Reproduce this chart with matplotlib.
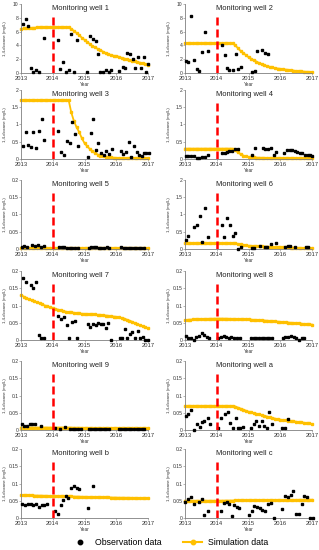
import numpy as np
import matplotlib
matplotlib.use("Agg")
import matplotlib.pyplot as plt
from matplotlib.lines import Line2D

plt.rcParams['font.family'] = ['Liberation Sans', 'DejaVu Sans']

ORANGE = '#FFC000'

# ---------------- data ----------------
well_names = ['1', '2', '3', '4', '5', '6', '7', '8', '9', 'a', 'b', 'c']
action_year = 2014

# simulation (monthly, 2013.0 - 2017.0)
sim_1 = [6.4, 6.45, 6.5, 6.5, 6.55, 6.55, 6.6, 6.6, 6.6, 6.6, 6.6, 6.6, 6.6,
         6.65, 6.65, 6.65, 6.65, 6.65, 6.6, 6.4, 6.1, 5.8, 5.5, 5.1, 4.8,
         4.5, 4.2, 3.9, 3.7, 3.5, 3.3, 3.1, 2.9, 2.75, 2.6, 2.5, 2.45,
         2.35, 2.2, 2.1, 2.0, 1.9, 1.8, 1.7, 1.6, 1.5, 1.4, 1.3, 1.2]
sim_2 = [4.3, 4.3, 4.3, 4.3, 4.3, 4.3, 4.3, 4.3, 4.3, 4.3, 4.3, 4.3, 4.3,
         4.3, 4.3, 4.3, 4.3, 4.3, 4.3, 4.0, 3.6, 3.2, 2.9, 2.6, 2.3,
         2.05, 1.85, 1.65, 1.45, 1.3, 1.15, 1.0, 0.9, 0.8, 0.7, 0.65, 0.6,
         0.55, 0.5, 0.45, 0.4, 0.35, 0.3, 0.27, 0.24, 0.2, 0.18, 0.15, 0.12]
sim_3 = [1.71, 1.71, 1.71, 1.71, 1.71, 1.71, 1.71, 1.71, 1.71, 1.71, 1.71, 1.71, 1.71,
         1.71, 1.71, 1.71, 1.71, 1.71, 1.71, 1.35, 1.1, 0.92, 0.78, 0.6, 0.46,
         0.37, 0.29, 0.22, 0.17, 0.13, 0.1, 0.085, 0.07, 0.055, 0.045, 0.037, 0.03,
         0.028, 0.026, 0.025, 0.024, 0.023, 0.022, 0.021, 0.02, 0.02, 0.02, 0.02, 0.02]
sim_4 = [0.3, 0.3, 0.3, 0.3, 0.3, 0.3, 0.3, 0.3, 0.3, 0.3, 0.3, 0.3, 0.3,
         0.3, 0.3, 0.3, 0.3, 0.3, 0.3, 0.25, 0.19, 0.14, 0.1, 0.075, 0.06,
         0.05, 0.045, 0.04, 0.037, 0.035, 0.033, 0.031, 0.029, 0.027, 0.025, 0.023, 0.022,
         0.021, 0.02, 0.02, 0.02, 0.02, 0.02, 0.02, 0.02, 0.02, 0.02, 0.02, 0.02]
sim_5 = [0.003, 0.003, 0.003, 0.003, 0.003, 0.003, 0.003, 0.003, 0.003, 0.003, 0.003, 0.003, 0.003,
         0.003, 0.003, 0.003, 0.003, 0.003, 0.003, 0.0029, 0.0028, 0.0027, 0.0026, 0.0025, 0.0024,
         0.0024, 0.0023, 0.0023, 0.0022, 0.0022, 0.0021, 0.0021, 0.002, 0.002, 0.002, 0.002, 0.002,
         0.0019, 0.0019, 0.0018, 0.0018, 0.0017, 0.0017, 0.0016, 0.0016, 0.0015, 0.0015, 0.0015, 0.0015]
sim_6 = [0.17, 0.17, 0.17, 0.17, 0.17, 0.17, 0.17, 0.17, 0.17, 0.17, 0.17, 0.17, 0.17,
         0.17, 0.17, 0.17, 0.17, 0.17, 0.17, 0.16, 0.15, 0.135, 0.12, 0.105, 0.095,
         0.09, 0.085, 0.08, 0.077, 0.074, 0.07, 0.067, 0.064, 0.06, 0.057, 0.054, 0.052,
         0.05, 0.047, 0.044, 0.042, 0.04, 0.037, 0.034, 0.031, 0.028, 0.025, 0.022, 0.02]
sim_7 = [0.13, 0.126, 0.122, 0.118, 0.115, 0.112, 0.109, 0.106, 0.103, 0.1, 0.098, 0.095, 0.093,
         0.09, 0.088, 0.086, 0.084, 0.082, 0.081, 0.08, 0.079, 0.078, 0.077, 0.076, 0.076,
         0.075, 0.075, 0.074, 0.074, 0.073, 0.073, 0.072, 0.071, 0.07, 0.069, 0.068, 0.067,
         0.066, 0.064, 0.062, 0.059, 0.056, 0.053, 0.049, 0.046, 0.043, 0.04, 0.037, 0.034]
sim_8 = [0.058, 0.0585, 0.059, 0.0595, 0.06, 0.0603, 0.0606, 0.061, 0.0612, 0.0614, 0.0616, 0.0618, 0.062,
         0.062, 0.062, 0.0618, 0.0616, 0.0614, 0.0612, 0.061, 0.0607, 0.0604, 0.0601, 0.0598, 0.0595,
         0.059, 0.0585, 0.058, 0.0575, 0.057, 0.0565, 0.056, 0.0553, 0.0546, 0.054, 0.0533, 0.0525,
         0.052, 0.0513, 0.0506, 0.05, 0.0493, 0.0486, 0.048, 0.0473, 0.0466, 0.046, 0.0453, 0.0445]
sim_9 = [0.007, 0.007, 0.007, 0.007, 0.007, 0.007, 0.007, 0.007, 0.007, 0.007, 0.007, 0.007, 0.007,
         0.007, 0.007, 0.007, 0.007, 0.007, 0.007, 0.0068, 0.0066, 0.0065, 0.0064, 0.0063, 0.0062,
         0.0062, 0.0061, 0.0061, 0.006, 0.006, 0.006, 0.006, 0.006, 0.006, 0.006, 0.006, 0.006,
         0.0059, 0.0059, 0.0058, 0.0058, 0.0058, 0.0057, 0.0057, 0.0057, 0.0056, 0.0056, 0.0056, 0.0055]
sim_a = [0.07, 0.07, 0.07, 0.07, 0.07, 0.07, 0.07, 0.07, 0.07, 0.07, 0.07, 0.07, 0.07,
         0.07, 0.07, 0.07, 0.07, 0.07, 0.07, 0.068, 0.065, 0.062, 0.059, 0.056, 0.053,
         0.051, 0.049, 0.047, 0.045, 0.043, 0.041, 0.039, 0.037, 0.035, 0.033, 0.031, 0.03,
         0.029, 0.028, 0.027, 0.026, 0.025, 0.024, 0.023, 0.022, 0.021, 0.02, 0.019, 0.017]
sim_b = [0.066, 0.066, 0.0658, 0.0656, 0.0654, 0.0652, 0.065, 0.0648, 0.0646, 0.0644, 0.0642, 0.064, 0.0638,
         0.0636, 0.0634, 0.0632, 0.063, 0.0628, 0.0626, 0.0624, 0.0622, 0.062, 0.0618, 0.0616, 0.0614,
         0.0612, 0.061, 0.0608, 0.0606, 0.0604, 0.0602, 0.06, 0.0598, 0.0596, 0.0594, 0.0592, 0.059,
         0.0589, 0.0588, 0.0587, 0.0586, 0.0585, 0.0584, 0.0583, 0.0582, 0.0581, 0.058, 0.058, 0.058]
sim_c = [0.05, 0.05, 0.05, 0.05, 0.05, 0.05, 0.05, 0.05, 0.05, 0.05, 0.05, 0.05, 0.05,
         0.0502, 0.0503, 0.0504, 0.0505, 0.0506, 0.0507, 0.0508, 0.0509, 0.051, 0.051, 0.051, 0.051,
         0.0511, 0.0512, 0.0513, 0.0514, 0.0515, 0.0516, 0.0517, 0.0518, 0.0519, 0.052, 0.052, 0.052,
         0.0521, 0.0522, 0.0523, 0.0524, 0.0525, 0.0526, 0.0527, 0.0528, 0.0529, 0.053, 0.053, 0.053]

# observations
obs_year_1 = [2013.05, 2013.16, 2013.23, 2013.32, 2013.39, 2013.48, 2013.58, 2013.74, 2014.17, 2014.24,
              2014.33, 2014.42, 2014.5, 2014.59, 2014.67, 2014.75, 2015.09, 2015.16, 2015.27, 2015.36,
              2015.41, 2015.49, 2015.57, 2015.67, 2015.76, 2015.85, 2016.1, 2016.2, 2016.28, 2016.34,
              2016.44, 2016.52, 2016.6, 2016.68, 2016.77, 2016.87, 2016.93, 2017.0]
obs_val_1 = [7.1, 7.8, 6.8, 0.75, 0.15, 0.4, 0.15, 5.1, 4.8, 0.65,
             1.6, 0.1, 0.5, 5.6, 0.15, 4.8, 0.1, 5.4, 4.9, 4.6,
             2.7, 0.15, 0.15, 0.5, 0.15, 0.45, 0.35, 0.85, 0.75, 2.85,
             2.8, 2.1, 0.75, 2.35, 0.75, 2.3, 0.1, 1.35]
obs_year_2 = [2013.02, 2013.11, 2013.2, 2013.28, 2013.38, 2013.45, 2013.54, 2013.63, 2013.72, 2014.16,
              2014.25, 2014.33, 2014.4, 2014.51, 2014.6, 2014.67, 2014.76, 2015.12, 2015.19, 2015.26,
              2015.42, 2015.51, 2015.6]
obs_val_2 = [1.8, 1.6, 8.2, 1.9, 0.6, 0.35, 3.0, 6.0, 3.15, 4.0,
             2.55, 0.75, 0.45, 0.5, 2.8, 0.6, 0.9, 0.15, 0.35, 3.25,
             3.4, 2.85, 2.8]
obs_year_3 = [2013.05, 2013.15, 2013.23, 2013.31, 2013.39, 2013.48, 2013.57, 2013.65, 2013.73, 2014.18,
              2014.27, 2014.35, 2014.44, 2014.53, 2014.62, 2014.69, 2014.78, 2015.11, 2015.19, 2015.28,
              2015.36, 2015.43, 2015.51, 2015.61, 2015.69, 2015.77, 2015.86, 2016.14, 2016.22, 2016.3,
              2016.39, 2016.47, 2016.55, 2016.64, 2016.71, 2016.8, 2016.88, 2016.95, 2017.03]
obs_val_3 = [0.38, 0.79, 0.4, 0.35, 0.78, 0.33, 0.81, 1.17, 0.56, 0.81,
             0.21, 0.12, 0.52, 0.45, 1.07, 0.73, 0.38, 0.05, 0.76, 1.17,
             0.26, 0.46, 0.16, 0.12, 0.24, 0.14, 0.3, 0.22, 0.14, 0.21,
             0.5, 0.07, 0.37, 0.21, 0.12, 0.1, 0.16, 0.16, 0.16]
obs_year_4 = [2013.02, 2013.11, 2013.2, 2013.29, 2013.38, 2013.44, 2013.53, 2013.62, 2013.73, 2014.16,
              2014.25, 2014.32, 2014.4, 2014.48, 2014.59, 2014.67, 2015.11, 2015.2, 2015.45, 2015.53,
              2015.61, 2015.7, 2015.8, 2015.88, 2016.12, 2016.22, 2016.3, 2016.37, 2016.46, 2016.54,
              2016.61, 2016.7, 2016.77, 2016.86, 2016.93, 2017.0]
obs_val_4 = [0.08, 0.1, 0.1, 0.08, 0.03, 0.02, 0.05, 0.06, 0.13, 0.16,
             0.18, 0.2, 0.22, 0.24, 0.28, 0.29, 0.12, 0.32, 0.32, 0.29,
             0.3, 0.32, 0.12, 0.21, 0.17, 0.26, 0.26, 0.26, 0.24, 0.19,
             0.17, 0.18, 0.12, 0.12, 0.12, 0.1]
obs_year_5 = [2013.04, 2013.11, 2013.19, 2013.36, 2013.44, 2013.52, 2013.63, 2013.72, 2014.21, 2014.29,
              2014.37, 2014.46, 2014.53, 2014.62, 2014.69, 2014.78, 2015.13, 2015.21, 2015.29, 2015.36,
              2015.45, 2015.53, 2015.62, 2015.7, 2015.77, 2016.15, 2016.23, 2016.3, 2016.39, 2016.47,
              2016.55, 2016.63, 2016.71, 2016.78, 2016.86]
obs_val_5 = [0.007, 0.008, 0.005, 0.013, 0.01, 0.013, 0.005, 0.01, 0.007, 0.006,
             0.005, 0.004, 0.004, 0.004, 0.004, 0.004, 0.004, 0.005, 0.005, 0.005,
             0.004, 0.004, 0.004, 0.005, 0.004, 0.005, 0.004, 0.004, 0.004, 0.004,
             0.004, 0.004, 0.004, 0.003, 0.003]
obs_year_6 = [2013.02, 2013.11, 2013.28, 2013.37, 2013.46, 2013.53, 2013.62, 2013.73, 2014.15, 2014.24,
              2014.33, 2014.41, 2014.5, 2014.59, 2014.66, 2014.75, 2015.11, 2015.18, 2015.36, 2015.52,
              2015.59, 2015.7, 2015.87, 2016.15, 2016.23, 2016.3, 2016.48, 2016.81, 2016.88]
obs_val_6 = [0.27, 0.39, 0.63, 0.69, 0.96, 0.21, 1.2, 0.34, 0.71, 0.34,
             0.9, 0.7, 0.37, 0.46, 0.0, 0.05, 0.03, 0.04, 0.08, 0.06,
             0.05, 0.15, 0.17, 0.06, 0.08, 0.08, 0.07, 0.06, 0.07]
obs_year_7 = [2013.05, 2013.15, 2013.32, 2013.39, 2013.48, 2013.56, 2013.64, 2013.72, 2014.18, 2014.27,
              2014.35, 2014.44, 2014.52, 2014.6, 2014.69, 2014.77, 2015.1, 2015.18, 2015.26, 2015.35,
              2015.43, 2015.51, 2015.59, 2015.67, 2015.75, 2015.84, 2016.11, 2016.18, 2016.26, 2016.35,
              2016.43, 2016.51, 2016.59, 2016.67, 2016.75, 2016.83, 2016.92, 2017.0]
obs_val_7 = [0.179, 0.169, 0.16, 0.15, 0.169, 0.014, 0.005, 0.005, 0.07, 0.061,
             0.066, 0.043, 0.005, 0.053, 0.055, 0.005, 0.045, 0.037, 0.047, 0.043,
             0.049, 0.047, 0.045, 0.035, 0.05, 0.0, 0.005, 0.005, 0.031, 0.005,
             0.018, 0.024, 0.005, 0.026, 0.005, 0.01, 0.0, 0.0]
obs_year_8 = [2013.02, 2013.11, 2013.18, 2013.27, 2013.35, 2013.43, 2013.52, 2013.6, 2013.68, 2013.77,
              2014.05, 2014.14, 2014.22, 2014.3, 2014.38, 2014.46, 2014.55, 2014.63, 2014.72, 2015.08,
              2015.16, 2015.25, 2015.33, 2015.42, 2015.5, 2015.58, 2015.66, 2015.75, 2016.09, 2016.16,
              2016.25, 2016.33, 2016.42, 2016.5, 2016.58, 2016.67, 2016.76]
obs_val_8 = [0.013, 0.007, 0.005, 0.0, 0.009, 0.013, 0.021, 0.014, 0.009, 0.005,
             0.007, 0.009, 0.011, 0.009, 0.007, 0.009, 0.007, 0.005, 0.005, 0.005,
             0.005, 0.005, 0.005, 0.005, 0.005, 0.005, 0.005, 0.005, 0.007, 0.009,
             0.01, 0.013, 0.009, 0.007, 0.0, 0.007, 0.007]
obs_year_9 = [2013.03, 2013.11, 2013.19, 2013.27, 2013.35, 2013.43, 2013.62, 2014.08, 2014.23, 2014.4,
              2014.55, 2014.63, 2014.71, 2014.8, 2014.88, 2015.13, 2015.21, 2015.29, 2015.37, 2015.45,
              2015.53, 2015.61, 2015.69, 2015.77, 2016.08, 2016.16, 2016.24, 2016.32, 2016.4, 2016.48,
              2016.56, 2016.64, 2016.72, 2016.8, 2016.88]
obs_val_9 = [0.016, 0.013, 0.013, 0.017, 0.017, 0.016, 0.013, 0.006, 0.003, 0.01,
             0.002, 0.002, 0.002, 0.002, 0.002, 0.002, 0.002, 0.002, 0.002, 0.002,
             0.002, 0.002, 0.002, 0.002, 0.002, 0.002, 0.002, 0.002, 0.002, 0.002,
             0.002, 0.002, 0.002, 0.002, 0.002]
obs_year_a = [2013.02, 2013.11, 2013.2, 2013.28, 2013.37, 2013.46, 2013.53, 2013.61, 2013.71, 2013.79,
              2014.05, 2014.14, 2014.25, 2014.34, 2014.42, 2014.5, 2014.6, 2014.66, 2014.73, 2014.82,
              2015.08, 2015.16, 2015.25, 2015.33, 2015.41, 2015.5, 2015.57, 2015.65, 2015.74, 2016.06,
              2016.15, 2016.23]
obs_val_a = [0.041, 0.045, 0.059, 0.0, 0.016, 0.01, 0.024, 0.026, 0.035, 0.018,
             0.005, 0.035, 0.045, 0.051, 0.02, 0.005, 0.035, 0.005, 0.005, 0.01,
             0.005, 0.016, 0.027, 0.013, 0.027, 0.013, 0.005, 0.051, 0.016, 0.005,
             0.005, 0.033]
obs_year_b = [2013.03, 2013.13, 2013.22, 2013.3, 2013.39, 2013.47, 2013.56, 2013.65, 2013.73, 2013.82,
              2014.06, 2014.15, 2014.25, 2014.32, 2014.41, 2014.49, 2014.58, 2014.66, 2014.75, 2014.84,
              2015.1, 2015.27]
obs_val_b = [0.04, 0.038, 0.041, 0.04, 0.038, 0.041, 0.031, 0.039, 0.037, 0.042,
             0.019, 0.013, 0.037, 0.052, 0.064, 0.058, 0.088, 0.093, 0.088, 0.084,
             0.028, 0.093]
obs_year_c = [2013.0, 2013.09, 2013.18, 2013.27, 2013.44, 2013.53, 2013.61, 2013.71, 2014.14, 2014.22,
              2014.31, 2014.39, 2014.47, 2014.55, 2014.63, 2014.71, 2015.02, 2015.1, 2015.18, 2015.27,
              2015.36, 2015.44, 2015.53, 2015.61, 2015.7, 2015.8, 2016.07, 2016.15, 2016.24, 2016.33,
              2016.41, 2016.5, 2016.59, 2016.67, 2016.76, 2016.85, 2016.93, 2017.02]
obs_val_c = [0.045, 0.056, 0.062, 0.042, 0.045, 0.056, 0.008, 0.019, 0.02, 0.044,
             0.045, 0.042, 0.005, 0.037, 0.031, 0.028, 0.008, 0.021, 0.035, 0.032,
             0.03, 0.022, 0.02, 0.041, 0.044, 0.0, 0.026, 0.063, 0.061, 0.068,
             0.078, 0.012, 0.013, 0.042, 0.063, 0.061, 0.0, 0.0]

year_ticks = [2013, 2014, 2015, 2016, 2017]
ticks_big = [0, 2, 4, 6, 8, 10]
ticks_mid = [0, 0.5, 1, 1.5, 2]
ticks_small = [0, 0.05, 0.1, 0.15, 0.2]
tick_labels_big = ['0', '2', '4', '6', '8', '10']
tick_labels_mid = ['0', '0.5', '1', '1.5', '2']
tick_labels_small = ['0', '0.05', '0.1', '0.15', '0.2']

sims = [sim_1, sim_2, sim_3, sim_4, sim_5, sim_6, sim_7, sim_8, sim_9, sim_a, sim_b, sim_c]
obs_years = [obs_year_1, obs_year_2, obs_year_3, obs_year_4, obs_year_5, obs_year_6,
             obs_year_7, obs_year_8, obs_year_9, obs_year_a, obs_year_b, obs_year_c]
obs_vals = [obs_val_1, obs_val_2, obs_val_3, obs_val_4, obs_val_5, obs_val_6,
            obs_val_7, obs_val_8, obs_val_9, obs_val_a, obs_val_b, obs_val_c]
scales = ['big', 'big', 'mid', 'mid', 'small', 'mid', 'small', 'small', 'small', 'small', 'small', 'small']

# ---------------- figure ----------------
W_PX, H_PX = 319, 550
fig = plt.figure(figsize=(W_PX / 100, H_PX / 100), dpi=100)

col_left = [21, 185]
ax_w = 127
ax_h = 69
row_tops = [4, 90, 180, 271, 361, 449]
ylabel_px = 7.3  # x (px, relative to column) of the y-label's right edge

for i, name in enumerate(well_names):
    r, c = divmod(i, 2)
    x0 = col_left[c] / W_PX
    y0 = 1 - (row_tops[r] + ax_h) / H_PX
    ax = fig.add_axes([x0, y0, ax_w / W_PX, ax_h / H_PX])

    sim = sims[i]
    sim_years = np.linspace(2013, 2017, len(sim))
    ax.plot(sim_years, sim, color=ORANGE, lw=1.3, marker='s', ms=1.9,
            mec=ORANGE, mfc=ORANGE, zorder=2, clip_on=False)
    ax.plot(obs_years[i], obs_vals[i], ls='none', marker='s', ms=1.5,
            color='black', zorder=3, clip_on=False)

    if scales[i] == 'big':
        ticks, labels = ticks_big, tick_labels_big
    elif scales[i] == 'mid':
        ticks, labels = ticks_mid, tick_labels_mid
    else:
        ticks, labels = ticks_small, tick_labels_small
    ax.set_ylim(ticks[0], ticks[-1])
    ax.set_yticks(ticks)
    ax.set_yticklabels(labels)
    ax.set_xlim(2013, 2017)
    ax.set_xticks(year_ticks)
    ax.set_xticklabels([str(y) for y in year_ticks])

    ax.axvline(action_year, ymin=0, ymax=0.87, color='#FF0000', lw=1.8,
               dashes=(3.2, 1.6), zorder=4)

    ax.text(action_year - 0.03, 0.93, 'Monitoring well ' + name,
            transform=ax.get_xaxis_transform(), ha='left', va='center',
            fontsize=5.4, color='#222222')

    for s in ['top', 'right']:
        ax.spines[s].set_visible(False)
    for s in ['left', 'bottom']:
        ax.spines[s].set_color('#7f7f7f')
        ax.spines[s].set_linewidth(0.6)
    ax.tick_params(axis='x', labelsize=4.2, length=1.5, width=0.4,
                   pad=1, colors='#7f7f7f', labelcolor='#333333')
    ax.tick_params(axis='y', labelsize=3.6, length=1.2, width=0.4,
                   pad=0.6, colors='#7f7f7f', labelcolor='#333333')
    ax.set_ylabel('1,4-dioxane (mg/L)', fontsize=3.1, color='#333333')
    ax.yaxis.set_label_coords((ylabel_px - 21) / ax_w, 0.5)
    ax.set_xlabel('Year', fontsize=3.4, labelpad=0.5, color='#333333')

handles = [
    Line2D([], [], ls='none', marker='o', ms=3.2, color='black'),
    Line2D([], [], color=ORANGE, lw=1.5, marker='o', ms=3.2),
]
fig.legend(handles, ['Observation data', 'Simulation data'], loc='center',
           bbox_to_anchor=(0.53, 0.013), ncol=2, frameon=False, fontsize=6.3,
           handlelength=2.2, columnspacing=2.5, handletextpad=0.6)

fig.savefig('out.png', dpi=100)
